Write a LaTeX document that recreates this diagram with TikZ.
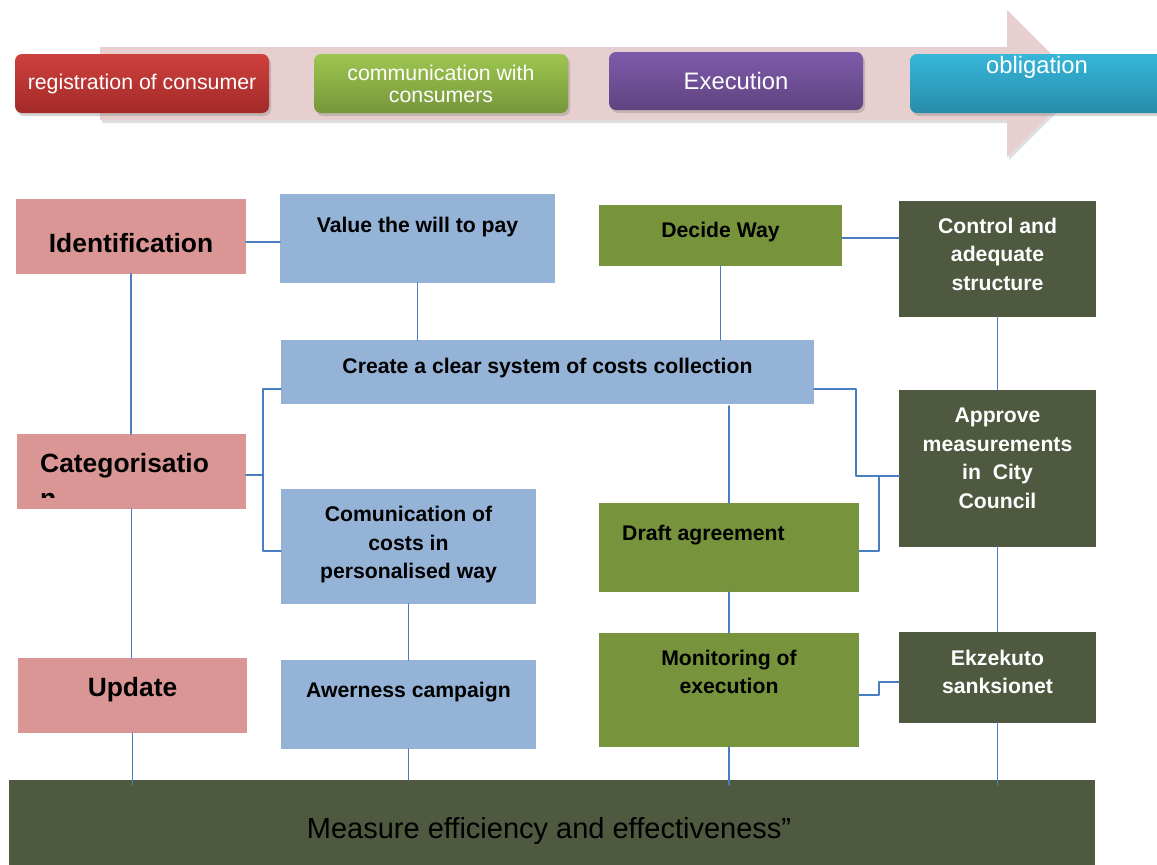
\documentclass[tikz,border=0pt]{standalone}
\usepackage{fontspec}
\setmainfont{Liberation Sans}
\usetikzlibrary{shadows}
\definecolor{pinkbox}{RGB}{218,150,148}
\definecolor{bluebox}{RGB}{149,179,215}
\definecolor{greenbox}{RGB}{119,147,60}
\definecolor{darkbox}{RGB}{79,89,63}
\definecolor{linkblue}{RGB}{74,126,193}
\definecolor{arrowpink}{RGB}{231,207,207}
\definecolor{redtop}{RGB}{206,64,62}
\definecolor{redbot}{RGB}{162,42,40}
\definecolor{greentop}{RGB}{158,198,80}
\definecolor{greenbot}{RGB}{118,150,58}
\definecolor{purpletop}{RGB}{127,91,170}
\definecolor{purplebot}{RGB}{94,67,128}
\definecolor{cyantop}{RGB}{54,182,216}
\definecolor{cyanbot}{RGB}{40,140,170}
\newcommand{\fbig}{\bfseries\fontsize{26.4}{35}\selectfont}
\newcommand{\fmid}{\bfseries\fontsize{21.2}{28.5}\selectfont}
\newcommand{\ftop}{\fontsize{21.3}{22}\selectfont}
\newcommand{\fexe}{\fontsize{23.8}{28}\selectfont}
\newcommand{\fbar}{\fontsize{29}{35}\selectfont}
\tikzset{
  blk/.style={fill=#1, inner sep=0pt, outer sep=0pt},
  txt/.style={font=\fmid, align=center, inner sep=0pt},
  wtxt/.style={txt, text=white},
  link/.style={draw=linkblue, line width=1.8pt},
  tbox/.style 2 args={rounded corners=7pt, top color=#1, bottom color=#2, inner sep=0pt,
    text=white, align=center, drop shadow={opacity=0.35, shadow xshift=2pt, shadow yshift=-3pt}}
}
\begin{document}
\begin{tikzpicture}[x=1pt, y=-1pt, line join=round, line cap=round]
\useasboundingbox (0,0) rectangle (1157,865);
% process arrow on top
\fill[arrowpink, drop shadow={opacity=0.25, shadow xshift=2pt, shadow yshift=-3pt}]
  (100,47) -- (1007,47) -- (1007,10) -- (1081,83.5) -- (1007,157) -- (1007,120) -- (100,120) -- cycle;
\node[tbox={redtop}{redbot}, minimum width=254, minimum height=59, font=\ftop] (reg) at (142,83.5) {registration of consumer};
\node[tbox={greentop}{greenbot}, minimum width=254, minimum height=59, font=\ftop] (commc) at (441,83.5) {communication with\\consumers};
\node[tbox={purpletop}{purplebot}, minimum width=254, minimum height=58, font=\fexe] (exec) at (736,81) {Execution};
\node[tbox={cyantop}{cyanbot}, minimum width=260, minimum height=59,
  label={[font=\fexe, text=white, xshift=-3, yshift=16]center:obligation}] (oblig) at (1040,83.5) {};

% blocks
\node[blk=pinkbox, minimum width=230, minimum height=75, label={[txt, font=\fbig, yshift=-6.5]center:Identification}] (ident) at (131,236.5) {};
\node[blk=bluebox, minimum width=275, minimum height=89, label={[txt, yshift=11]center:Value the will to pay}] (value) at (417.5,238.5) {};
\node[blk=greenbox, minimum width=243, minimum height=61, label={[txt, yshift=3]center:Decide Way}] (decide) at (720.5,235.5) {};
\node[blk=darkbox, minimum width=197, minimum height=116, label={[wtxt, yshift=5]center:{Control and\\adequate\\structure}}] (control) at (997.5,259) {};
\node[blk=bluebox, minimum width=533, minimum height=64, label={[txt, yshift=3.5]center:Create a clear system of costs collection}] (create) at (547.5,372) {};
\node[blk=pinkbox, minimum width=229, minimum height=75] (categ) at (131.5,471.5) {};
\begin{scope}
  \clip (17,434) rectangle (246,497);
  \node[txt, font=\fbig, align=left, anchor=north west] at (40,453) {Categorisatio\\n};
\end{scope}
\node[blk=bluebox, minimum width=255, minimum height=115, label={[txt, yshift=1.5]center:{Comunication of\\costs in\\personalised way}}] (comm) at (408.5,546.5) {};
\node[blk=greenbox, minimum width=260, minimum height=89, label={[txt, xshift=-25.5, yshift=12.5]center:Draft agreement}] (draft) at (729,547.5) {};
\node[blk=darkbox, minimum width=197, minimum height=157, label={[wtxt, yshift=10]center:{Approve\\measurements\\in\ \ City\\Council}}] (approve) at (997.5,468.5) {};
\node[blk=greenbox, minimum width=260, minimum height=114, label={[txt, yshift=18]center:{Monitoring of\\execution}}] (monitor) at (729,690) {};
\node[blk=darkbox, minimum width=197, minimum height=91, label={[wtxt, yshift=5.5]center:{Ekzekuto\\sanksionet}}] (ekz) at (997.5,677.5) {};
\node[blk=pinkbox, minimum width=229, minimum height=75, label={[txt, font=\fbig, yshift=5.5]center:Update}] (update) at (132.5,695.5) {};
\node[blk=bluebox, minimum width=255, minimum height=89, label={[txt, yshift=12.5]center:Awerness campaign}] (aware) at (408.5,704.5) {};
\node[blk=darkbox, minimum width=1086, minimum height=85, label={[font=\fbar, yshift=-8.5, xshift=-3]center:Measure efficiency and effectiveness”}] (measure) at (552,822.5) {};

% connectors
\draw[link] ([yshift=-5.5]ident.east) -- ([yshift=-5.5]ident.east -| value.west);
\draw[link] ([yshift=-2.5]decide.east) -- ([yshift=-2.5]decide.east -| control.west);
\draw[link] (ident.south) -- (ident.south |- categ.north);
\draw[link] (categ.south) -- (categ.south |- update.north);
\draw[link] (update.south) -- ([yshift=-5]update.south |- measure.north);
\draw[link] (value.south) -- (value.south |- create.north);
\draw[link] (decide.south) -- (decide.south |- create.north);
\draw[link] (control.south) -- (approve.north);
\draw[link] (approve.south) -- (ekz.north);
\draw[link] (ekz.south) -- ([yshift=-5]ekz.south |- measure.north);
\draw[link] ([yshift=-2]draft.north |- create.south) -- (draft.north);
\draw[link] (draft.south) -- (monitor.north);
\draw[link] (monitor.south) -- ([yshift=-5]monitor.south |- measure.north);
\draw[link] (comm.south) -- (aware.north);
\draw[link] (aware.south) -- (aware.south |- measure.north);
\draw[link] ([yshift=-3.5]categ.east) -- ++(17,0) coordinate (cj) |- ([yshift=-17]create.west);
\draw[link] (cj) |- ([yshift=-4.5]comm.west);
\draw[link] ([yshift=-17]create.east) -- ++(42,0) |- ([yshift=-7.5]approve.west);
\draw[link] ([yshift=-3.5]draft.east) -- ++(20,0) |- ([yshift=-7.5]approve.west);
\draw[link] ([yshift=-5]monitor.east) -- ++(20,0) |- ([yshift=-4.5]ekz.west);
\end{tikzpicture}
\end{document}
